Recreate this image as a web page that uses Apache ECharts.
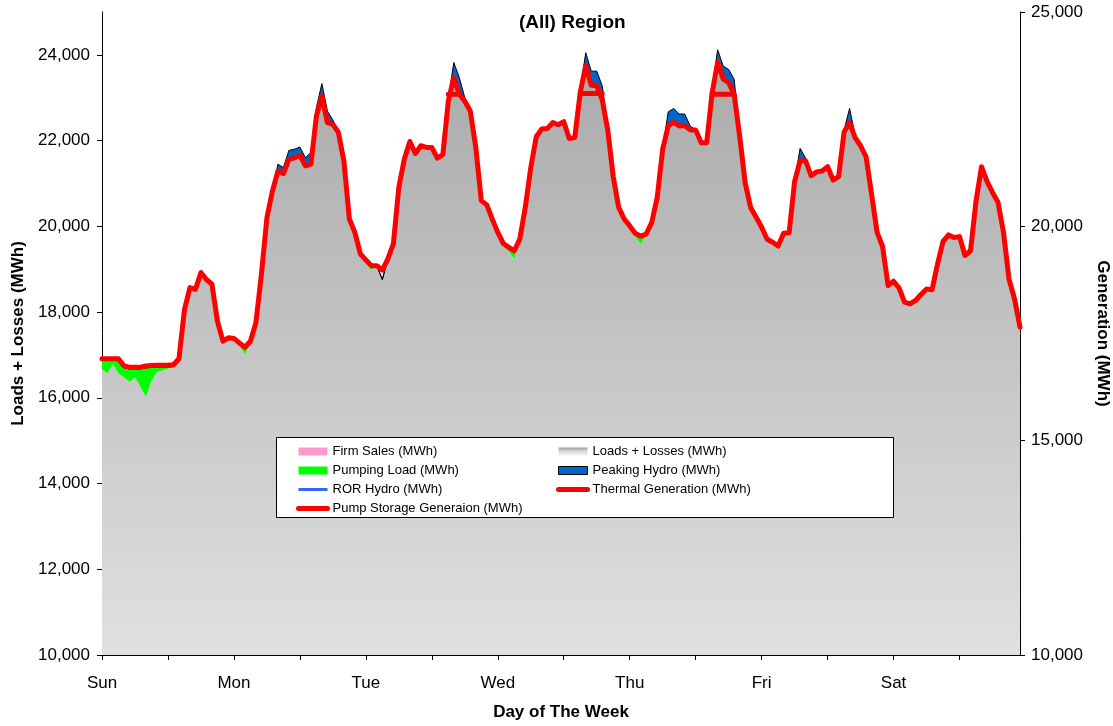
<!DOCTYPE html>
<html>
<head>
<meta charset="utf-8">
<script src="https://cdn.jsdelivr.net/npm/echarts@6/dist/echarts.min.js"></script>
<style>
html,body{margin:0;padding:0;background:#fff;}
#chart{width:1113px;height:726px;}
</style>
</head>
<body>
<div id="chart"></div>
<script>
// ---- tick labels / categories ----
const dayNames = ['Sun','Mon','Tue','Wed','Thu','Fri','Sat'];
const leftTicks = [10000,12000,14000,16000,18000,20000,22000,24000];
const rightTicks = [10000,15000,20000,25000];

// ---- series values (hourly, 7 days x 24 h) ----
const thermal = [
 16910,16910,16910,16910,16740,16715,16715,16715,16740,16755,16760,16760,16760,16770,16910,18060,18570,18530,18920,18760,18650,17790,17320,17400,
 17385,17280,17180,17320,17750,18880,20200,20820,21290,21230,21560,21600,21660,21410,21450,22570,23040,22420,22380,22190,21530,20170,19860,19355,
 19215,19080,19080,18980,19240,19590,20910,21570,21980,21700,21880,21840,21840,21590,21670,22920,23470,23080,22920,22690,21840,20600,20500,20170,
 19860,19600,19510,19430,19700,20440,21370,22090,22270,22280,22420,22370,22440,22050,22070,23120,23750,23290,23280,22950,22250,21160,20440,20170,
 20010,19840,19770,19820,20090,20670,21800,22340,22430,22340,22350,22250,22250,21950,21950,23120,23830,23440,23350,23080,22110,21020,20440,20210,
 19980,19700,19630,19540,19840,19850,21050,21530,21530,21180,21270,21290,21390,21080,21160,22200,22420,22070,21880,21620,20750,19860,19530,18620,
 18720,18560,18230,18190,18270,18410,18540,18520,19120,19650,19800,19740,19760,19320,19430,20590,21390,21050,20790,20560,19860,18770,18310,17650
];
const loadsLosses = [
 16680,16570,16790,16560,16480,16370,16480,16250,16020,16400,16600,16640,16680,16720,16910,18060,18570,18530,18920,18760,18650,17790,17320,17400,
 17385,17220,17010,17280,17750,18880,20200,20820,21290,21230,21560,21600,21660,21410,21450,22570,23040,22420,22380,22190,21530,20170,19860,19355,
 19155,18980,19080,18760,19240,19590,20910,21570,21980,21700,21880,21840,21840,21590,21670,22920,23470,23080,22920,22690,21840,20600,20500,20170,
 19860,19570,19410,19240,19700,20440,21370,22090,22270,22280,22420,22370,22440,22050,22070,23120,23750,23290,23280,22950,22250,21160,20440,20170,
 19970,19750,19590,19790,20090,20670,21800,22340,22430,22340,22350,22250,22250,21950,21950,23120,23830,23440,23350,23080,22110,21020,20440,20210,
 19980,19700,19630,19540,19840,19850,21050,21530,21530,21180,21270,21290,21390,21080,21160,22200,22420,22070,21880,21620,20750,19860,19530,18620,
 18720,18560,18230,18190,18270,18410,18540,18520,19120,19650,19800,19740,19760,19320,19430,20590,21390,21050,20790,20560,19860,18770,18310,17650
];
const pumpingLoad = [
 230,340,120,350,220,305,195,425,680,315,120,80,40,10,0,0,0,0,0,0,0,0,0,0,
 0,60,170,40,0,0,0,0,0,0,0,0,0,0,0,0,0,0,0,0,0,0,0,0,
 60,100,0,0,0,0,0,0,0,0,0,0,0,0,0,0,0,0,0,0,0,0,0,0,
 0,30,100,190,0,0,0,0,0,0,0,0,0,0,0,0,0,0,0,0,0,0,0,0,
 40,90,180,30,0,0,0,0,0,0,0,0,0,0,0,0,0,0,0,0,0,0,0,0,
 0,0,0,0,0,0,0,0,0,0,0,0,0,0,0,0,0,0,0,0,0,0,0,0,
 0,0,0,0,0,0,0,0,0,0,0,0,0,0,0,0,0,0,0,0,0,0,0,0
];
const peakingHydro = [
 0,0,0,0,0,0,0,0,0,0,0,0,0,0,0,0,0,0,0,0,0,0,0,0,
 0,0,0,0,0,0,0,0,160,140,210,200,190,190,270,200,290,270,100,30,0,0,0,0,
 0,0,0,0,0,0,0,0,0,0,0,0,0,0,0,50,350,390,80,0,0,0,0,0,
 0,0,0,0,0,0,0,0,0,0,0,0,0,0,0,50,300,330,340,330,100,0,0,0,
 0,0,0,0,0,0,0,330,320,280,270,90,0,0,0,100,290,300,310,350,50,0,0,0,
 0,0,0,0,0,0,0,290,60,0,0,0,0,0,0,50,330,60,0,0,0,0,0,0,
 0,0,0,0,0,0,0,0,0,0,0,0,0,0,0,0,0,0,0,0,0,0,0,0
];
const N = null;
const pumpStorageGen = [
 N,N,N,N,N,N,N,N,N,N,N,N,N,N,N,N,N,N,N,N,N,N,N,N,
 N,N,N,N,N,N,N,N,N,N,N,N,N,N,N,N,N,N,N,N,N,N,N,N,
 N,N,N,N,N,N,N,N,N,N,N,N,N,N,N,23080,23080,23080,N,N,N,N,N,N,
 N,N,N,N,N,N,N,N,N,N,N,N,N,N,N,23100,23100,23100,23100,23100,N,N,N,N,
 N,N,N,N,N,N,N,N,N,N,N,N,N,N,N,23080,23080,23080,23080,23080,N,N,N,N,
 N,N,N,N,N,N,N,N,N,N,N,N,N,N,N,N,N,N,N,N,N,N,N,N,
 N,N,N,N,N,N,N,N,N,N,N,N,N,N,N,N,N,N,N,N,N,N,N,N
];
const firmSales = [];   // nothing visible in the plotted range
const rorHydro = [];    // nothing visible in the plotted range

// ---- build categories ----
const hours = [];
dayNames.forEach(d => { for (let h = 0; h < 24; h++) hours.push(d + ' ' + h + ':00'); });

const fmt = v => String(v).replace(/\B(?=(\d{3})+(?!\d))/g, ',');
const FONT = '"Liberation Sans", Arial, sans-serif';

const grayFill = {type:'linear', x:0, y:12, x2:0, y2:655, global:true,
  colorStops:[{offset:0,color:'#a6a6a6'},{offset:1,color:'#e0e0e0'}]};
const grayIcon = {type:'linear', x:0, y:0, x2:0, y2:1,
  colorStops:[{offset:0,color:'#9a9a9a'},{offset:0.5,color:'#dddddd'},{offset:1,color:'#f2f2f2'}]};
const noSymbol = {color:'rgba(0,0,0,0)', borderColor:'rgba(0,0,0,0)', borderWidth:0};

const chart = echarts.init(document.getElementById('chart'), null, {renderer:'canvas'});
const legendBase = {orient:'vertical', top:444, padding:0, itemGap:4, itemWidth:29, itemHeight:8,
  selectedMode:false, z:20, textStyle:{fontFamily:FONT, fontSize:13, color:'#000', lineHeight:15}};

chart.setOption({
  animation:false,
  backgroundColor:'#ffffff',
  textStyle:{fontFamily:FONT},
  title:{text:'(All) Region', left:514, top:8,
    textStyle:{fontFamily:FONT, fontSize:19, fontWeight:'bold', color:'#000'}},
  grid:{left:102, right:93, top:12, bottom:71, outerBoundsMode:'none', containLabel:false},
  graphic:[{type:'rect', left:276, top:437, z:10,
    shape:{width:617, height:80}, style:{fill:'#fff', stroke:'#000', lineWidth:1}}],
  legend:[
    Object.assign({}, legendBase, {left:296, data:[
      {name:'Firm Sales (MWh)', icon:'rect', itemStyle:{color:'#ff99cc', borderWidth:0}},
      {name:'Pumping Load (MWh)', icon:'rect', itemStyle:{color:'#00ff00', borderWidth:0}},
      {name:'ROR Hydro (MWh)', itemStyle:noSymbol, lineStyle:{width:3, color:'#3366ff'}},
      {name:'Pump Storage Generaion (MWh)', itemStyle:noSymbol, lineStyle:{width:5, color:'#ff0000', cap:'round'}}
    ]}),
    Object.assign({}, legendBase, {left:556, data:[
      {name:'Loads + Losses (MWh)', icon:'rect', itemStyle:{color:grayIcon, borderWidth:0}},
      {name:'Peaking Hydro (MWh)', icon:'rect', itemStyle:{color:'#0066cc', borderColor:'#000', borderWidth:1}},
      {name:'Thermal Generation (MWh)', itemStyle:noSymbol, lineStyle:{width:5, color:'#ff0000', cap:'round'}}
    ]})
  ],
  xAxis:{type:'category', data:hours, boundaryGap:false,
    axisLine:{lineStyle:{color:'#000', width:1}},
    axisTick:{interval:(i)=> i % 12 === 0, length:5, lineStyle:{color:'#000'}},
    axisLabel:{interval:(i)=> i % 24 === 0, formatter:(v,i)=> dayNames[Math.floor(i/24)],
      color:'#000', fontSize:17, margin:20, fontFamily:FONT},
    splitLine:{show:false},
    name:'Day of The Week', nameLocation:'middle', nameGap:49,
    nameTextStyle:{fontFamily:FONT, fontWeight:'bold', fontSize:17, color:'#000'}},
  yAxis:[
    {type:'value', position:'left', min:10000, max:25000, interval:1000,
      axisLine:{show:true, lineStyle:{color:'#000'}},
      axisTick:{show:true, length:5, customValues:leftTicks, lineStyle:{color:'#000'}},
      axisLabel:{customValues:leftTicks, formatter:fmt, color:'#000', fontSize:17, margin:12,
        padding:[3,0,0,0], fontFamily:FONT},
      splitLine:{show:false},
      name:'Loads + Losses (MWh)', nameLocation:'middle', nameGap:73,
      nameTextStyle:{fontFamily:FONT, fontWeight:'bold', fontSize:17, color:'#000'}},
    {type:'value', position:'right', min:10000, max:25000, interval:5000,
      axisLine:{show:true, lineStyle:{color:'#000'}},
      axisTick:{show:true, length:5, customValues:rightTicks, lineStyle:{color:'#000'}},
      axisLabel:{customValues:rightTicks, formatter:fmt, color:'#000', fontSize:17, margin:11,
        padding:[3,0,0,0], fontFamily:FONT},
      splitLine:{show:false},
      name:'Generation (MWh)', nameLocation:'middle', nameGap:70, nameRotate:-90,
      nameTextStyle:{fontFamily:FONT, fontWeight:'bold', fontSize:17, color:'#000'}}
  ],
  series:[
    {name:'Loads + Losses (MWh)', type:'line', stack:'load', data:loadsLosses, symbol:'none',
      lineStyle:{width:0}, itemStyle:{color:'#b8b8b8'}, areaStyle:{color:grayFill, opacity:1}, z:2},
    {name:'Pumping Load (MWh)', type:'line', stack:'load', data:pumpingLoad, symbol:'none',
      lineStyle:{width:1, color:'#000'}, itemStyle:{color:'#00ff00'}, areaStyle:{color:'#00ff00', opacity:1}, z:2},
    {name:'Peaking Hydro (MWh)', type:'line', stack:'load', data:peakingHydro, symbol:'none',
      lineStyle:{width:1, color:'#000'}, itemStyle:{color:'#0066cc'}, areaStyle:{color:'#0066cc', opacity:1}, z:2},
    {name:'Firm Sales (MWh)', type:'line', data:firmSales, symbol:'none',
      lineStyle:{width:0}, itemStyle:{color:'#ff99cc'}, areaStyle:{color:'#ff99cc', opacity:1}},
    {name:'ROR Hydro (MWh)', type:'line', data:rorHydro, symbol:'none',
      lineStyle:{width:3, color:'#3366ff'}, itemStyle:{color:'#3366ff'}},
    {name:'Thermal Generation (MWh)', type:'line', yAxisIndex:1, data:thermal, symbol:'none',
      lineStyle:{width:5, color:'#ff0000', join:'round', cap:'round'}, itemStyle:{color:'#ff0000'}, z:4},
    {name:'Pump Storage Generaion (MWh)', type:'line', yAxisIndex:1, data:pumpStorageGen, symbol:'none',
      connectNulls:false,
      lineStyle:{width:5, color:'#ff0000', join:'round', cap:'round'}, itemStyle:{color:'#ff0000'}, z:4}
  ]
});
</script>
</body>
</html>
